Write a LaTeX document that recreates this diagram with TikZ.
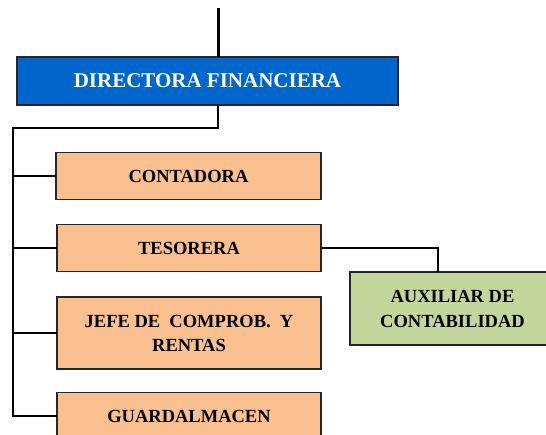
\documentclass[tikz,border=0pt]{standalone}
\usepackage{fontspec}
\setmainfont{Liberation Serif}
\definecolor{dirblue}{HTML}{0066CC}
\definecolor{cargo}{HTML}{FAC090}
\definecolor{auxgreen}{HTML}{C3D69B}

\begin{document}
\begin{tikzpicture}[x=1pt, y=-1pt,
  box/.style={draw=black!85, line width=1.8pt, inner sep=0pt, outer sep=0pt, align=center, font=\bfseries\fontsize{18.5}{24}\selectfont},
  link/.style={line width=1.8pt}]
\clip (0,0) rectangle (546,434);

\node[box, fill=dirblue, text=white, minimum width=381pt, minimum height=48pt, font=\bfseries\fontsize{21}{24}\selectfont] (dir) at (207.5,81) {DIRECTORA FINANCIERA};
\node[box, fill=cargo, minimum width=265pt, minimum height=47pt] (cont) at (188.5,176) {CONTADORA};
\node[box, fill=cargo, minimum width=264pt, minimum height=47pt] (tes) at (189,248) {TESORERA};
\node[box, fill=cargo, minimum width=264pt, minimum height=72pt] (jefe) at (189,333) {JEFE DE\ \ COMPROB.\ \ Y\\RENTAS};
\node[box, fill=cargo, minimum width=264pt, minimum height=47pt] (guard) at (189,416) {GUARDALMACEN};
\node[box, fill=auxgreen, minimum width=205pt, minimum height=73pt, font=\bfseries\fontsize{18.5}{25}\selectfont] (aux) at (452.5,308.5) {AUXILIAR DE\\CONTABILIDAD};

\coordinate (top) at (218,8);
\coordinate (bus) at (13,128);

\draw[line width=3pt] (top) -- (top |- dir.north);
\draw[link] (top |- dir.south) |- (bus) |- (guard.west);
\draw[link] (bus |- cont.west) -- (cont.west);
\draw[link] (bus |- tes.west) -- (tes.west);
\draw[link] (bus |- jefe.west) -- (jefe.west);
\draw[link] (tes.east) -| ([xshift=-14.5pt]aux.north);
\end{tikzpicture}
\end{document}
